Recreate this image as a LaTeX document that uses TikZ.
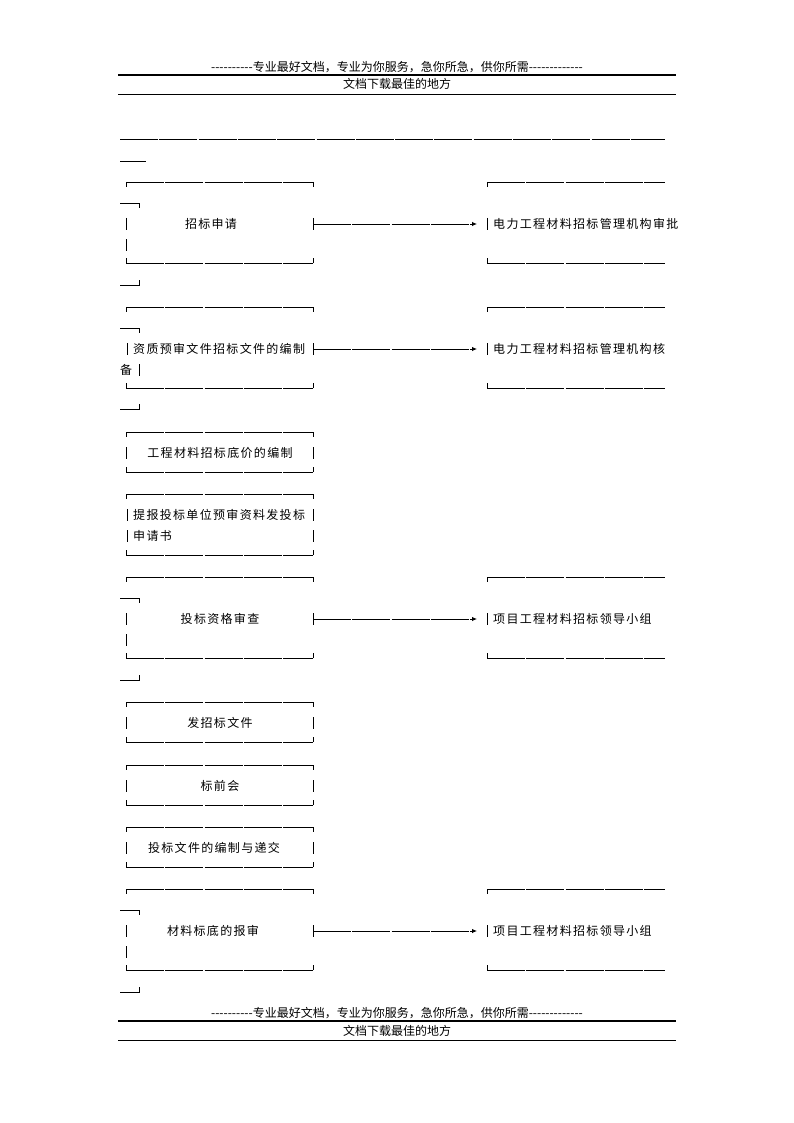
\documentclass[tikz,border=0pt]{standalone}
\usepackage{fontspec}
\setmainfont{Noto Sans CJK SC}
\newfontfamily\bodyfont[LetterSpace=11]{Noto Sans CJK SC}
\usetikzlibrary{arrows.meta}

\newcommand\hyx{-{}}
\newcommand\hyten{\hyx\hyx\hyx\hyx\hyx\hyx\hyx\hyx\hyx\hyx}
\newcommand\headline{\hyten 专业最好文档，专业为你服务，急你所急，供你所需\hyten\hyx\hyx\hyx}

\newcommand\topframe[1]{%
  \draw[seg] (126,#1) -- (313,#1);
  \draw[bar] (126,#1) -- (126,#1+5);
  \draw[bar] (313,#1) -- (313,#1+5);
}
\newcommand\botframe[1]{%
  \draw[seg] (126,#1) -- (313,#1);
  \draw[bar] (126,#1) -- (126,#1-5);
  \draw[bar] (313,#1) -- (313,#1-5);
}
\newcommand\bigleft[1]{%
  \topframe{#1}
  \draw[bar] (120,#1+21) -- (139,#1+21) -- (139,#1+26);
  \draw[bar] (126,#1+36) -- (126,#1+48);
  \draw[bar] (126,#1+57) -- (126,#1+69);
  \draw[bar] (313,#1+36) -- (313,#1+48);
  \botframe{#1+81}
  \draw[bar] (120,#1+103) -- (139,#1+103) -- (139,#1+98);
}
\newcommand\bigright[1]{%
  \draw[seg] (487,#1) -- (665,#1);
  \draw[bar] (487,#1) -- (487,#1+5);
  \draw[bar] (487,#1+36) -- (487,#1+48);
  \draw[seg] (487,#1+81) -- (665,#1+81);
  \draw[bar] (487,#1+81) -- (487,#1+76);
}

\begin{document}
\begin{tikzpicture}[x=1pt,y=-1pt,
  seg/.style={line width=0.9pt, dash pattern=on 38pt off 1.3pt},
  bar/.style={line width=0.9pt},
  conn/.style={line width=0.9pt, dash pattern=on 38pt off 1.3pt, -{Latex[length=5pt,width=4.5pt]}},
  lbl/.style={font=\bodyfont\fontsize{12}{12}\selectfont, inner sep=0pt},
  hdr/.style={font=\fontsize{12}{12}\selectfont, inner sep=0pt}]
\useasboundingbox (0,0) rectangle (794,1123);

% header
\node[hdr] (h1) at (397,67) {\headline};
\draw[line width=2pt] (118,75) -- (676,75);
\node[hdr] (h2) at (397,84) {文档下载最佳的地方};
\draw[line width=0.9pt] (118,94) -- (676,94);

\draw[seg] (120,139) -- (665,139);
\draw[bar] (120,161) -- (146,161);

% box 1
\bigleft{182}
\bigright{182}
\node[lbl] (b1) at (211,224) {招标申请};
\node[lbl,anchor=west] (r1) at (493,224) {电力工程材料招标管理机构审批};
\coordinate (s1) at (313,224);
\draw[conn] (s1) -- ([xshift=-16pt]r1.west);

% box 2
\topframe{307}
\draw[bar] (120,328) -- (139,328) -- (139,333);
\draw[bar] (127,343) -- (127,355);
\node[lbl,anchor=west] (b2) at (133,349) {资质预审文件招标文件的编制};
\draw[bar] (313,343) -- (313,355);
\node[lbl,anchor=west] (b2b) at (120,370) {备};
\draw[bar] (139,364) -- (139,376);
\botframe{388}
\draw[bar] (120,409) -- (139,409) -- (139,404);
\bigright{307}
\node[lbl,anchor=west] (r2) at (493,349) {电力工程材料招标管理机构核};
\coordinate (s2) at (313,349);
\draw[conn] (s2) -- ([xshift=-16pt]r2.west);

% box 3
\topframe{432}
\botframe{472}
\draw[bar] (126,447) -- (126,459);
\draw[bar] (313,447) -- (313,459);
\node[lbl] (b3) at (220,453) {工程材料招标底价的编制};

% box 4
\topframe{494}
\botframe{555}
\draw[bar] (127,509) -- (127,521);
\draw[bar] (313,509) -- (313,521);
\draw[bar] (127,530) -- (127,542);
\draw[bar] (313,530) -- (313,542);
\node[lbl,anchor=west] (b4) at (133,515) {提报投标单位预审资料发投标};
\node[lbl,anchor=west] (b4b) at (133,536) {申请书};

% box 5
\bigleft{577}
\bigright{577}
\node[lbl] (b5) at (220,619) {投标资格审查};
\node[lbl,anchor=west] (r5) at (493,619) {项目工程材料招标领导小组};
\coordinate (s5) at (313,619);
\draw[conn] (s5) -- ([xshift=-16pt]r5.west);

% box 6
\topframe{702}
\botframe{742}
\draw[bar] (126,717) -- (126,729);
\draw[bar] (313,717) -- (313,729);
\node[lbl] (b6) at (220,723) {发招标文件};

% box 7
\topframe{765}
\botframe{805}
\draw[bar] (126,780) -- (126,792);
\draw[bar] (313,780) -- (313,792);
\node[lbl] (b7) at (220,786) {标前会};

% box 8
\topframe{827}
\botframe{867}
\draw[bar] (126,842) -- (126,854);
\draw[bar] (313,842) -- (313,854);
\node[lbl] (b8) at (214,848) {投标文件的编制与递交};

% box 9
\bigleft{889}
\bigright{889}
\node[lbl] (b9) at (213,931) {材料标底的报审};
\node[lbl,anchor=west] (r9) at (493,931) {项目工程材料招标领导小组};
\coordinate (s9) at (313,931);
\draw[conn] (s9) -- ([xshift=-16pt]r9.west);

% footer
\node[hdr] (f1) at (397,1013) {\headline};
\draw[line width=2pt] (118,1021) -- (676,1021);
\node[hdr] (f2) at (397,1031) {文档下载最佳的地方};
\draw[line width=0.9pt] (118,1040) -- (676,1040);
\end{tikzpicture}
\end{document}
